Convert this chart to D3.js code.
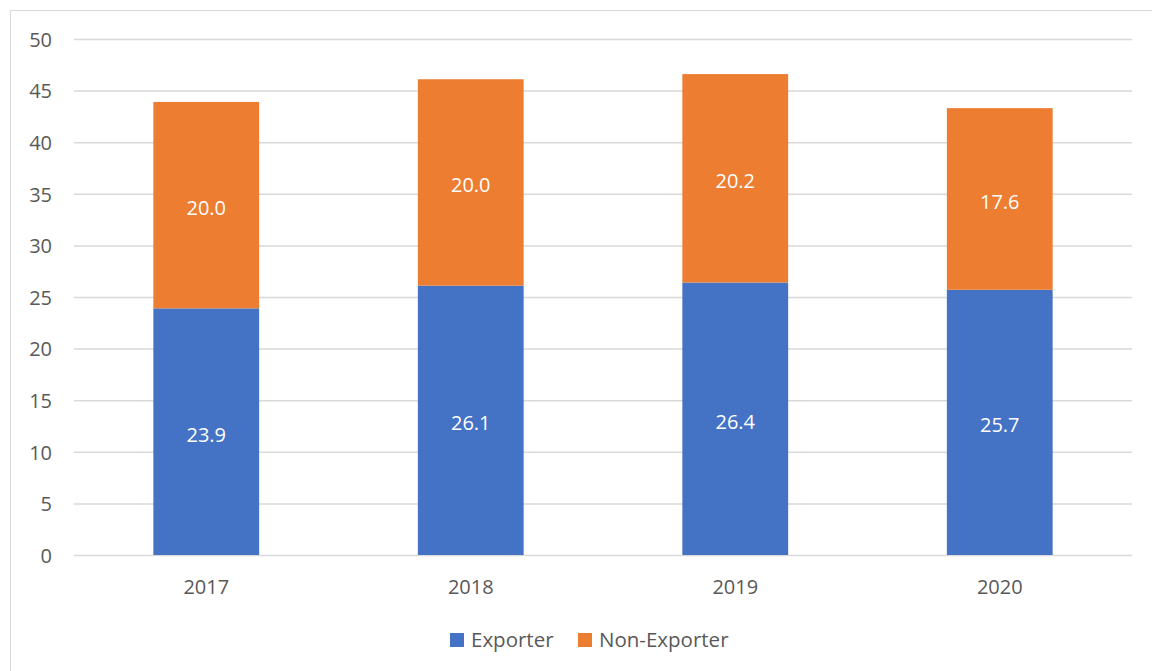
<!DOCTYPE html>
<html>
<head>
<meta charset="utf-8">
<script src="https://cdn.jsdelivr.net/npm/d3@7"></script>
<style>
  html, body { margin: 0; padding: 0; background: #fff; }
  svg { display: block; }
</style>
</head>
<body>
<script>
// Sales split by exporter status, per year
const years = ["2017", "2018", "2019", "2020"];
const exporter = [23.9, 26.1, 26.4, 25.7];
const nonExporter = [20.0, 20.0, 20.2, 17.6];
const seriesNames = ["Exporter", "Non-Exporter"];
const yTicks = [0, 5, 10, 15, 20, 25, 30, 35, 40, 45, 50];

const colors = ["#4472C4", "#ED7D31"];
const textColor = "#595959";
const fontFamily = "'Open Sans', 'Noto Sans', sans-serif";

const W = 1152, H = 671;
const margin = { left: 74, top: 39 };
const plotRight = 1132;
const plotBottom = 555;

const svg = d3.select("body").append("svg")
  .attr("width", W).attr("height", H);

// chart frame
svg.append("rect")
  .attr("x", 10.5).attr("y", 10.5)
  .attr("width", W).attr("height", H)
  .attr("fill", "#fff")
  .attr("stroke", "#d9d9d9").attr("stroke-width", 1);

const x = d3.scaleBand()
  .domain(years)
  .range([margin.left, plotRight])
  .paddingInner(0.6).paddingOuter(0.3);

const y = d3.scaleLinear()
  .domain([0, 50])
  .range([plotBottom, margin.top]);

// gridlines and value axis
const yAxis = d3.axisLeft(y).tickValues(yTicks)
  .tickSize(-(plotRight - margin.left)).tickPadding(22);
const gy = svg.append("g")
  .attr("transform", `translate(${margin.left},0)`)
  .call(yAxis);
gy.select(".domain").remove();
gy.selectAll(".tick line").attr("stroke", "#d9d9d9").attr("stroke-width", 1.5);
gy.selectAll(".tick text")
  .attr("fill", textColor)
  .attr("dy", "0.36em")
  .style("font-family", fontFamily)
  .style("font-size", "20px");

// stacked bars
const table = years.map((yr, i) => ({ year: yr, Exporter: exporter[i], "Non-Exporter": nonExporter[i] }));
const stack = d3.stack().keys(seriesNames)(table);

const layers = svg.append("g").selectAll("g")
  .data(stack).join("g")
  .attr("fill", (d, i) => colors[i]);

layers.selectAll("rect")
  .data(d => d).join("rect")
  .attr("x", d => x(d.data.year))
  .attr("width", x.bandwidth())
  .attr("y", d => y(d[1]))
  .attr("height", d => y(d[0]) - y(d[1]));

layers.selectAll("text")
  .data(d => d).join("text")
  .attr("x", d => x(d.data.year) + x.bandwidth() / 2)
  .attr("y", d => (y(d[0]) + y(d[1])) / 2)
  .attr("dy", "0.5em")
  .attr("text-anchor", "middle")
  .attr("fill", "#fff")
  .style("font-family", fontFamily)
  .style("font-size", "20px")
  .text(d => (d[1] - d[0]).toFixed(1));

// category labels
const xAxis = d3.axisBottom(x).tickSize(0).tickPadding(0);
const gx = svg.append("g")
  .attr("transform", `translate(0,${plotBottom})`)
  .call(xAxis);
gx.select(".domain").remove();
gx.selectAll(".tick text")
  .attr("y", 32)
  .attr("dy", "0.36em")
  .attr("fill", textColor)
  .style("font-family", fontFamily)
  .style("font-size", "20px");

// legend
const legendItems = [
  { name: seriesNames[0], color: colors[0], x: 450 },
  { name: seriesNames[1], color: colors[1], x: 578 }
];
const lg = svg.append("g");
legendItems.forEach(it => {
  lg.append("rect")
    .attr("x", it.x).attr("y", 633)
    .attr("width", 14).attr("height", 14)
    .attr("fill", it.color);
  lg.append("text")
    .attr("x", it.x + 21).attr("y", 640)
    .attr("dy", "0.36em")
    .attr("fill", textColor)
    .style("font-family", fontFamily)
    .style("font-size", "20.5px")
    .text(it.name);
});
</script>
</body>
</html>
